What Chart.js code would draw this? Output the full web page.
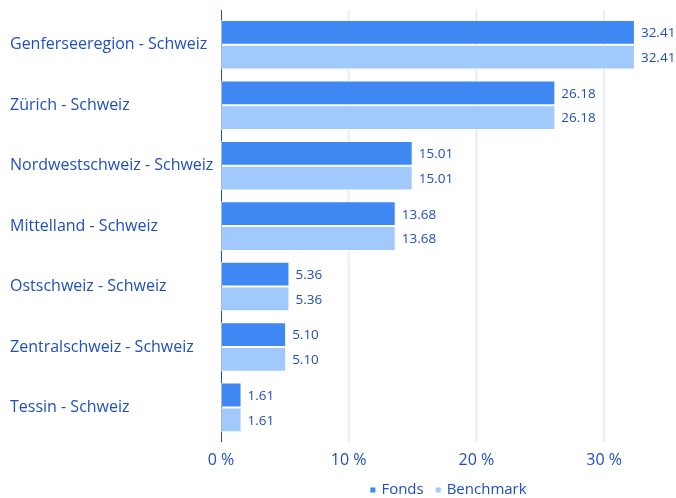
<!DOCTYPE html>
<html>
<head>
<meta charset="utf-8">
<script src="https://cdn.jsdelivr.net/npm/chart.js@4/dist/chart.umd.min.js"></script>
<style>
html,body{margin:0;padding:0;background:#fff;}
#wrap{width:676px;height:498px;position:relative;}
</style>
</head>
<body>
<div id="wrap"><canvas id="c"></canvas></div>
<script>
const categories = ["Genferseeregion - Schweiz","Zürich - Schweiz","Nordwestschweiz - Schweiz","Mittelland - Schweiz","Ostschweiz - Schweiz","Zentralschweiz - Schweiz","Tessin - Schweiz"];
const fonds = [32.41, 26.18, 15.01, 13.68, 5.36, 5.10, 1.61];
const benchmark = [32.41, 26.18, 15.01, 13.68, 5.36, 5.10, 1.61];
const tickValues = [0, 10, 20, 30];
const seriesNames = ['Fonds', 'Benchmark'];
const seriesColors = ['#3f87f3', '#a2c9fc'];

const textColor = '#1f4fbf';
const fontFamily = '"Open Sans", "Noto Sans", sans-serif';

const gridAndAxis = {
  id: 'gridAndAxis',
  beforeDatasetsDraw(chart) {
    const ctx = chart.ctx;
    const area = chart.chartArea;
    const xs = chart.scales.x;
    const ext = 4.6;
    ctx.save();
    ctx.strokeStyle = '#e3eefc';
    ctx.lineWidth = 2;
    tickValues.forEach(v => {
      if (v === 0) return;
      const px = xs.getPixelForValue(v);
      ctx.beginPath();
      ctx.moveTo(px, area.top - ext);
      ctx.lineTo(px, area.bottom + ext);
      ctx.stroke();
    });
    ctx.strokeStyle = '#1f4fbf';
    ctx.lineWidth = 1;
    const x0 = Math.round(xs.getPixelForValue(0)) + 0.5;
    ctx.beginPath();
    ctx.moveTo(x0, area.top - ext);
    ctx.lineTo(x0, area.bottom + ext);
    ctx.stroke();
    ctx.restore();
  }
};

const valueLabels = {
  id: 'valueLabels',
  afterDatasetsDraw(chart) {
    const ctx = chart.ctx;
    ctx.save();
    ctx.font = '13.5px ' + fontFamily;
    ctx.fillStyle = textColor;
    ctx.textAlign = 'left';
    ctx.textBaseline = 'middle';
    chart.data.datasets.forEach((ds, i) => {
      const meta = chart.getDatasetMeta(i);
      meta.data.forEach((bar, j) => {
        ctx.fillText(ds.data[j].toFixed(2), bar.x + 6, bar.y + 1);
      });
    });
    ctx.restore();
  }
};

const bottomLegend = {
  id: 'bottomLegend',
  afterDraw(chart) {
    const ctx = chart.ctx;
    const area = chart.chartArea;
    ctx.save();
    ctx.font = '15px ' + fontFamily;
    ctx.textBaseline = 'middle';
    const box = 5, gapBox = 6, gapItem = 12;
    const widths = chart.data.datasets.map(ds => box + gapBox + ctx.measureText(ds.label).width);
    const total = widths.reduce((a, b) => a + b, 0) + gapItem * (widths.length - 1);
    let x = (area.left + chart.width) / 2 - total / 2;
    const y = 490;
    chart.data.datasets.forEach((ds, i) => {
      ctx.fillStyle = ds.backgroundColor;
      ctx.fillRect(x, y - box / 2, box, box);
      ctx.fillStyle = textColor;
      ctx.textAlign = 'left';
      ctx.fillText(ds.label, x + box + gapBox, y);
      x += widths[i] + gapItem;
    });
    ctx.restore();
  }
};

new Chart(document.getElementById('c'), {
  type: 'bar',
  data: {
    labels: categories,
    datasets: seriesNames.map((name, i) => ({
      label: name,
      data: i === 0 ? fonds : benchmark,
      backgroundColor: seriesColors[i],
      borderColor: 'rgba(255,255,255,0.6)',
      borderWidth: 1,
      borderSkipped: false,
      categoryPercentage: 0.82,
      barPercentage: 1
    }))
  },
  options: {
    indexAxis: 'y',
    responsive: true,
    maintainAspectRatio: false,
    animation: false,
    layout: { padding: { top: 14.6, right: 8, left: 10, bottom: 15.2 } },
    scales: {
      x: {
        min: 0, max: 35,
        afterBuildTicks(scale) { scale.ticks = tickValues.map(v => ({ value: v })); },
        grid: { display: false, drawTicks: false },
        border: { display: false },
        ticks: { color: textColor, font: { size: 16, family: fontFamily }, padding: 13, callback: v => v + ' %' }
      },
      y: {
        afterFit(scale) { scale.width = 211; scale.paddingTop = 0; scale.paddingBottom = 0; },
        grid: { display: false, drawTicks: false },
        border: { display: false },
        ticks: { color: textColor, font: { size: 16, family: fontFamily }, crossAlign: 'far', padding: 8 }
      }
    },
    plugins: {
      legend: { display: false },
      tooltip: { enabled: false }
    }
  },
  plugins: [gridAndAxis, valueLabels, bottomLegend]
});
</script>
</body>
</html>
